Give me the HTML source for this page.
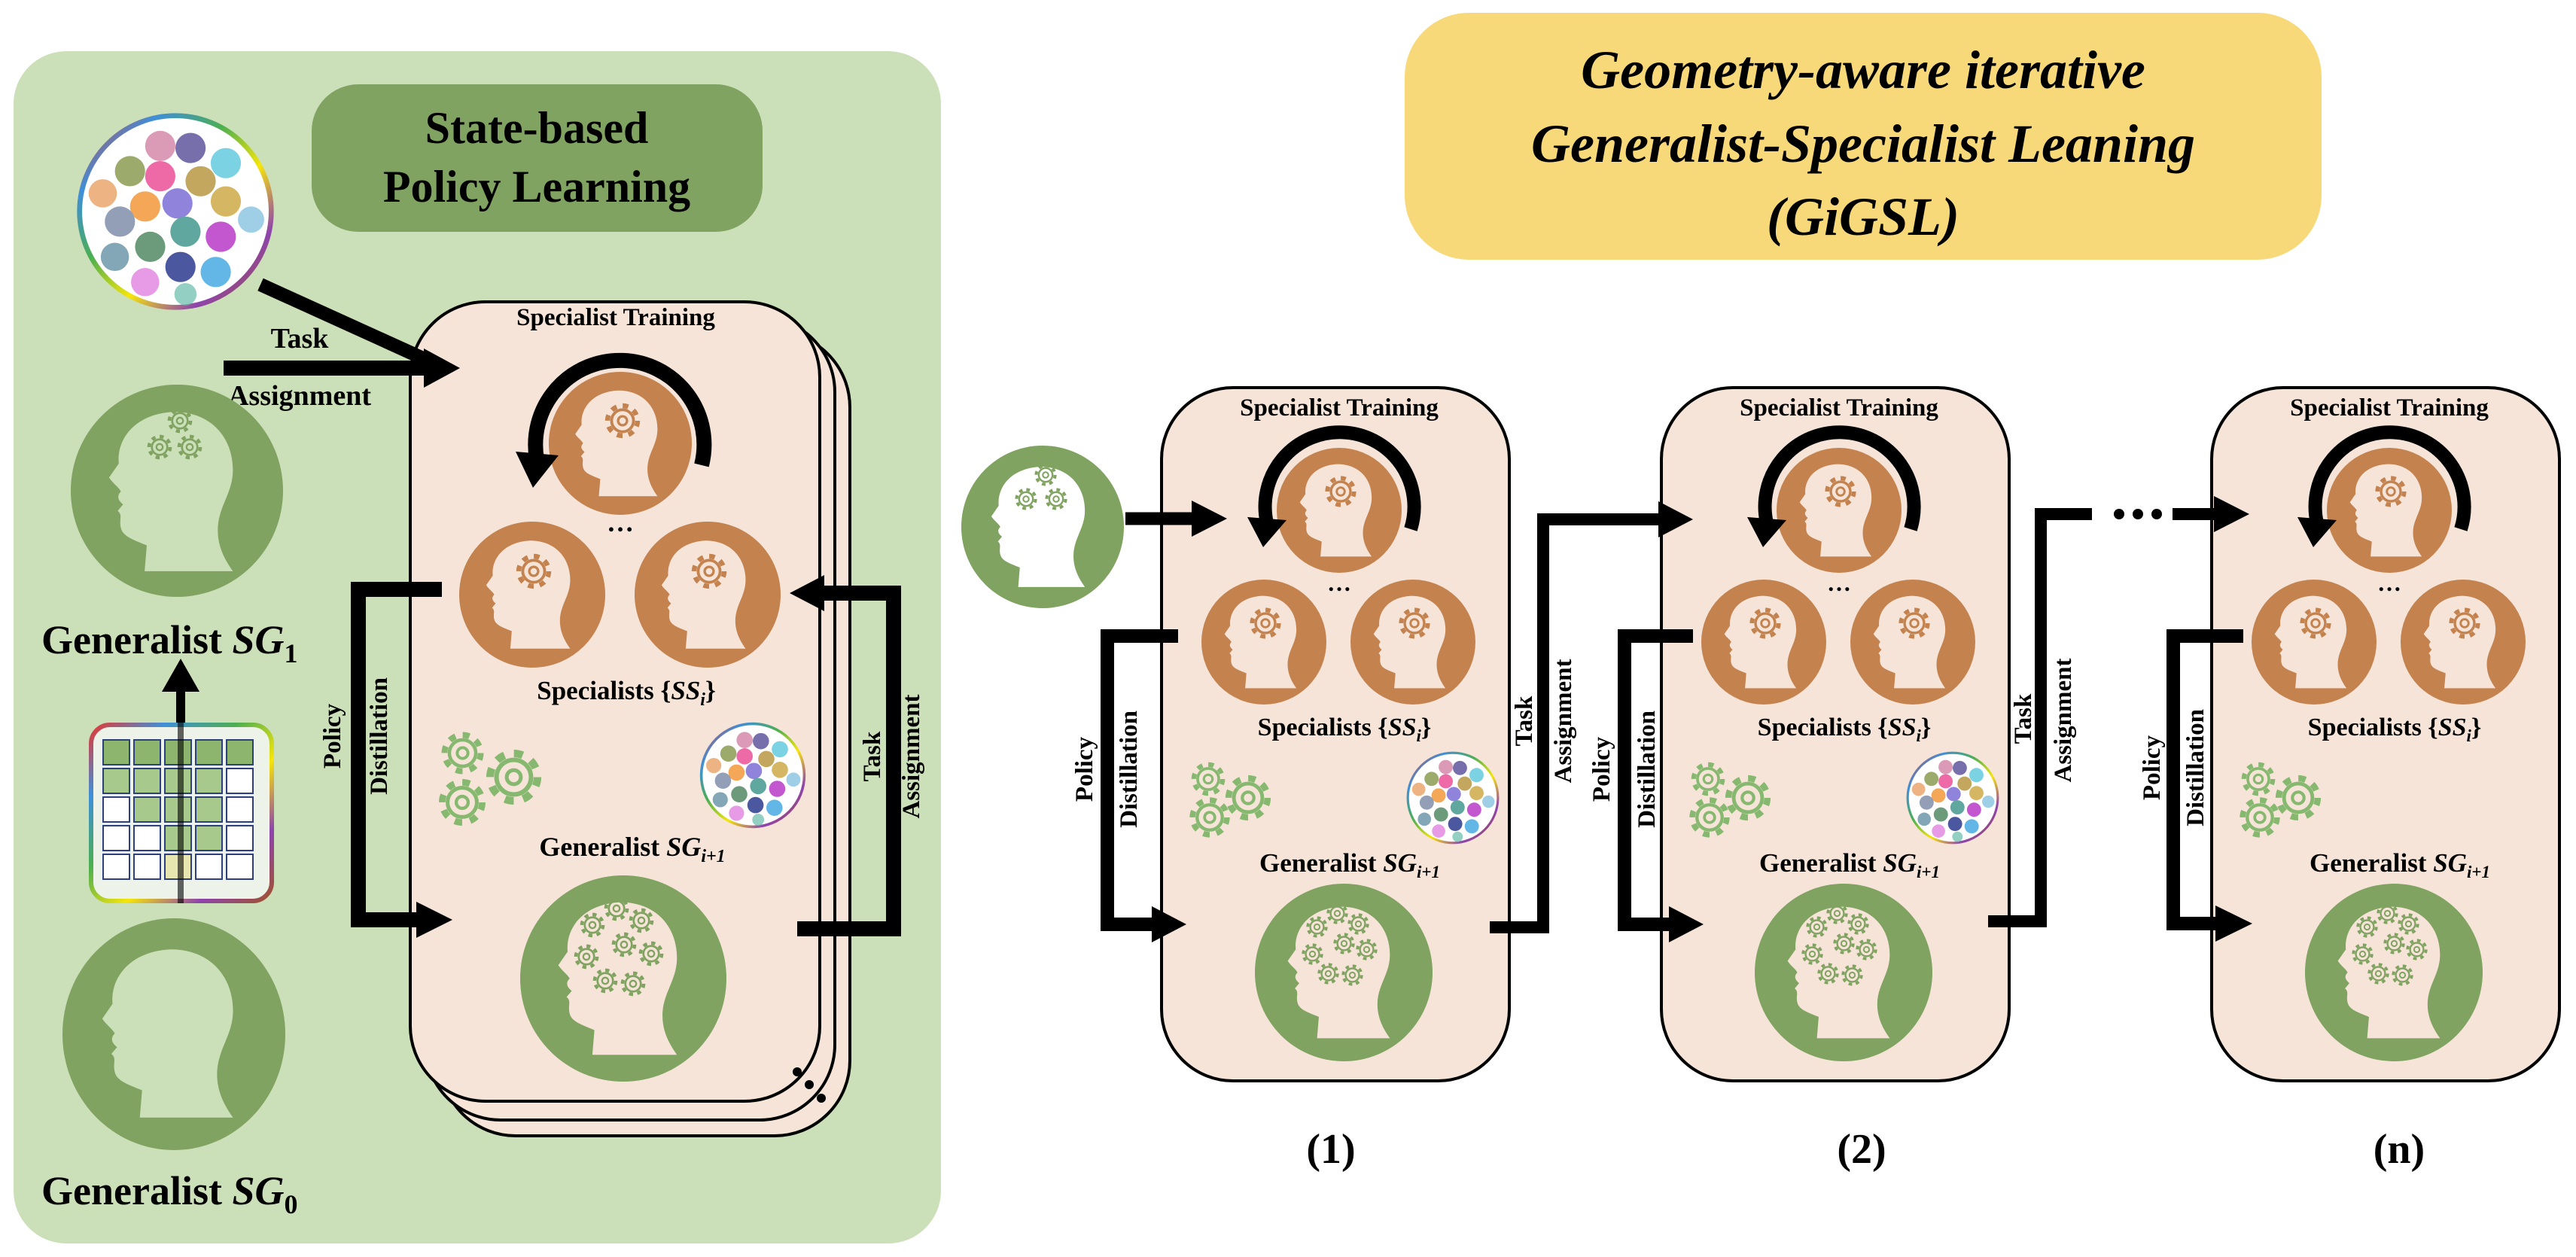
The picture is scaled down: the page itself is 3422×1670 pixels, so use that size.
<!DOCTYPE html>
<html><head><meta charset="utf-8"><style>
html,body{margin:0;padding:0;background:#fff;}
svg{display:block;}
text{font-family:"Liberation Serif",serif;font-weight:bold;fill:#000;}
</style></head><body>
<svg width="3422" height="1670" viewBox="0 0 3422 1670" xmlns="http://www.w3.org/2000/svg">
<defs>
<linearGradient id="rb" x1="0" y1="0" x2="1" y2="1">
<stop offset="0" stop-color="#e53935"/><stop offset="0.2" stop-color="#3f8fd8"/><stop offset="0.4" stop-color="#4caf50"/><stop offset="0.6" stop-color="#f5e50b"/><stop offset="0.8" stop-color="#8e44ad"/><stop offset="1" stop-color="#a0522d"/>
</linearGradient>
<symbol id="head" viewBox="-100 -100 200 200">
<path d="M -30,74 L -28,50 C -40,45 -50,42 -52,34 C -54,26 -50,22 -55,18 L -50,12 C -55,8 -56,4 -52,0 C -54,-4 -60,-8 -63,-13 L -54,-26 C -56,-48 -40,-72 -3,-74 C 32,-74 52,-50 52,-20 C 52,2 38,14 38,36 C 38,52 45,64 52,74 Z"/>
</symbol>
<symbol id="gear" viewBox="-50 -50 100 100">
<circle r="37" fill="none" stroke-width="12" stroke-dasharray="14 15.05"/>
<circle r="27" fill="none" stroke-width="7"/>
<circle r="11" fill="none" stroke-width="6"/>
</symbol>
<symbol id="scat" viewBox="-100 -100 200 200">
<circle r="95" fill="#fff" stroke="url(#rb)" stroke-width="5"/>
<g opacity="0.75">
<circle cx="-15" cy="-65" r="15" fill="#d07aa0"/><circle cx="15" cy="-63" r="15" fill="#4a3f8f"/><circle cx="50" cy="-48" r="15" fill="#4fc3d9"/>
<circle cx="-45" cy="-40" r="15" fill="#7c8f3a"/><circle cx="-15" cy="-35" r="15" fill="#e8398a"/><circle cx="25" cy="-30" r="15" fill="#b08a2a"/>
<circle cx="-72" cy="-18" r="14" fill="#e89a5a"/><circle cx="-30" cy="-5" r="15" fill="#f08a20"/><circle cx="2" cy="-8" r="15" fill="#6a5ad0"/><circle cx="50" cy="-10" r="15" fill="#c8a030"/>
<circle cx="-55" cy="10" r="15" fill="#6f7f9f"/><circle cx="10" cy="20" r="15" fill="#2a8a80"/><circle cx="45" cy="25" r="15" fill="#b020c0"/><circle cx="75" cy="8" r="13" fill="#7fbfe0"/>
<circle cx="-60" cy="45" r="14" fill="#5a8aa0"/><circle cx="-25" cy="35" r="15" fill="#3a7a50"/><circle cx="5" cy="55" r="15" fill="#102080"/>
<circle cx="-30" cy="70" r="14" fill="#e07ae0"/><circle cx="40" cy="60" r="15" fill="#30a0e0"/><circle cx="10" cy="82" r="11" fill="#70c0b0"/>
</g>
</symbol>
</defs>

<!-- LEFT PANEL -->
<rect x="18" y="68" width="1232" height="1584" rx="70" fill="#cbdfb8"/>
<rect x="414" y="112" width="599" height="196" rx="62" fill="#80a361"/>
<text x="713" y="190" font-size="60" text-anchor="middle">State-based</text>
<text x="713" y="268" font-size="60" text-anchor="middle">Policy Learning</text>

<use href="#scat" x="99" y="147" width="268" height="268"/>

<text x="398" y="462" font-size="38" text-anchor="middle">Task</text>
<text x="398" y="538" font-size="38" text-anchor="middle">Assignment</text>

<!-- SG1 head -->
<circle cx="235" cy="652" r="141" fill="#80a361"/>
<use href="#head" x="92" y="510" width="286" height="286" fill="#cbdfb8"/>
<g stroke="#80a361"><use href="#gear" x="220" y="540" width="38" height="38"/><use href="#gear" x="193" y="575" width="38" height="38"/><use href="#gear" x="233" y="575" width="38" height="38"/></g>
<text x="55" y="868" font-size="54">Generalist <tspan font-style="italic">SG</tspan><tspan font-size="36" dy="12">1</tspan></text>

<!-- grid -->
<line x1="240" y1="1200" x2="240" y2="912" stroke="#000" stroke-width="12"/>
<polygon points="215,919 240,875 265,919" fill="#000"/>
<rect x="121" y="963" width="240" height="234" rx="25" fill="#eef3ea" stroke="url(#rb)" stroke-width="6"/>
<g stroke="#2e3f80" stroke-width="2">
<rect x="137" y="983" width="35" height="33" fill="#8db56d"/><rect x="178" y="983" width="35" height="33" fill="#8db56d"/><rect x="219" y="983" width="35" height="33" fill="#8db56d"/><rect x="260" y="983" width="35" height="33" fill="#8db56d"/><rect x="301" y="983" width="35" height="33" fill="#8db56d"/>
<rect x="137" y="1021" width="35" height="33" fill="#a8c98c"/><rect x="178" y="1021" width="35" height="33" fill="#a8c98c"/><rect x="219" y="1021" width="35" height="33" fill="#a8c98c"/><rect x="260" y="1021" width="35" height="33" fill="#a8c98c"/><rect x="301" y="1021" width="35" height="33" fill="#fff"/>
<rect x="137" y="1059" width="35" height="33" fill="#fff"/><rect x="178" y="1059" width="35" height="33" fill="#a8c98c"/><rect x="219" y="1059" width="35" height="33" fill="#a8c98c"/><rect x="260" y="1059" width="35" height="33" fill="#a8c98c"/><rect x="301" y="1059" width="35" height="33" fill="#fff"/>
<rect x="137" y="1097" width="35" height="33" fill="#fff"/><rect x="178" y="1097" width="35" height="33" fill="#fff"/><rect x="219" y="1097" width="35" height="33" fill="#a8c98c"/><rect x="260" y="1097" width="35" height="33" fill="#a8c98c"/><rect x="301" y="1097" width="35" height="33" fill="#fff"/>
<rect x="137" y="1135" width="35" height="33" fill="#fff"/><rect x="178" y="1135" width="35" height="33" fill="#fff"/><rect x="219" y="1135" width="35" height="33" fill="#e8e6b0"/><rect x="260" y="1135" width="35" height="33" fill="#fff"/><rect x="301" y="1135" width="35" height="33" fill="#fff"/>
</g>
<line x1="240" y1="1200" x2="240" y2="960" stroke="#000" stroke-width="8" opacity="0.6"/>

<!-- SG0 head -->
<ellipse cx="231" cy="1374" rx="148" ry="154" fill="#80a361"/>
<use href="#head" x="80" y="1222" width="302" height="302" fill="#cbdfb8"/>
<text x="55" y="1600" font-size="54">Generalist <tspan font-style="italic">SG</tspan><tspan font-size="36" dy="12">0</tspan></text>

<!-- stacked cards -->
<rect x="585" y="441" width="544" height="1068" rx="100" fill="#f5e4d7" stroke="#000" stroke-width="4"/>
<rect x="565" y="421" width="544" height="1067" rx="100" fill="#f5e4d7" stroke="#000" stroke-width="4"/>
<rect x="545" y="401" width="544" height="1062" rx="100" fill="#f5e4d7" stroke="#000" stroke-width="4"/>
<circle cx="1059" cy="1424" r="6"/><circle cx="1075" cy="1441" r="6"/><circle cx="1091" cy="1459" r="6"/>

<!-- task assignment arrows (on top of cards) -->
<line x1="346" y1="378" x2="575" y2="482" stroke="#000" stroke-width="18"/>
<line x1="297" y1="489" x2="570" y2="489" stroke="#000" stroke-width="20"/>
<polygon points="563,463 611,489 563,515" fill="#000"/>

<text x="818" y="432" font-size="33" text-anchor="middle">Specialist Training</text>
<circle cx="824" cy="589" r="95" fill="#c4824f"/>
<use href="#head" x="729" y="494" width="190" height="190" fill="#f5e4d7"/>
<use href="#gear" x="800" y="532" width="54" height="54" stroke="#c4824f"/>
<path d="M 932,618 A 112 112 0 1 0 713,610" fill="none" stroke="#000" stroke-width="20"/>
<polygon points="685,600 742,605 708,648" fill="#000"/>
<text x="824" y="706" font-size="36" text-anchor="middle">…</text>
<circle cx="707" cy="790" r="97" fill="#c4824f"/>
<use href="#head" x="610" y="693" width="194" height="194" fill="#f5e4d7"/>
<use href="#gear" x="682" y="732" width="54" height="54" stroke="#c4824f"/>
<circle cx="940" cy="790" r="97" fill="#c4824f"/>
<use href="#head" x="843" y="693" width="194" height="194" fill="#f5e4d7"/>
<use href="#gear" x="915" y="732" width="54" height="54" stroke="#c4824f"/>
<text x="832" y="929" font-size="35" text-anchor="middle">Specialists {<tspan font-style="italic">SS</tspan><tspan font-style="italic" font-size="24" dy="8">i</tspan><tspan dy="-8">}</tspan></text>
<g stroke="#86b96f"><use href="#gear" x="582" y="968" width="65" height="65"/><use href="#gear" x="640" y="990" width="85" height="85"/><use href="#gear" x="578" y="1030" width="72" height="72"/></g>
<use href="#scat" x="928" y="958" width="144" height="144"/>
<text x="840" y="1137" font-size="36" text-anchor="middle">Generalist <tspan font-style="italic">SG</tspan><tspan font-style="italic" font-size="24" dy="8">i+1</tspan></text>
<circle cx="828" cy="1300" r="137" fill="#80a361"/>
<use href="#head" x="691" y="1163" width="274" height="274" fill="#f5e4d7"/>
<g stroke="#80a361"><use href="#gear" x="800" y="1188" width="38" height="38"/><use href="#gear" x="833" y="1204" width="38" height="38"/><use href="#gear" x="768" y="1210" width="38" height="38"/><use href="#gear" x="810" y="1236" width="38" height="38"/><use href="#gear" x="846" y="1248" width="38" height="38"/><use href="#gear" x="760" y="1252" width="38" height="38"/><use href="#gear" x="785" y="1284" width="38" height="38"/><use href="#gear" x="822" y="1288" width="38" height="38"/></g>

<!-- left panel brackets -->
<path d="M 587,783 H 476 V 1222 H 560" fill="none" stroke="#000" stroke-width="20"/>
<polygon points="553,1198 601,1222 553,1246" fill="#000"/>
<path d="M 1059,1234 H 1187 V 788 H 1092" fill="none" stroke="#000" stroke-width="20"/>
<polygon points="1095,764 1049,788 1095,812" fill="#000"/>
<text transform="translate(452,978) rotate(-90)" font-size="33" text-anchor="middle">Policy</text>
<text transform="translate(514,978) rotate(-90)" font-size="33" text-anchor="middle">Distillation</text>
<text transform="translate(1169,1005) rotate(-90)" font-size="33" text-anchor="middle">Task</text>
<text transform="translate(1221,1005) rotate(-90)" font-size="33" text-anchor="middle">Assignment</text>

<!-- TITLE -->
<rect x="1866" y="17" width="1218" height="328" rx="85" fill="#f8d97a"/>
<text x="2475" y="117" font-size="72" font-style="italic" text-anchor="middle">Geometry-aware iterative</text>
<text x="2475" y="215" font-size="72" font-style="italic" text-anchor="middle">Generalist-Specialist Leaning</text>
<text x="2475" y="312" font-size="72" font-style="italic" text-anchor="middle">(GiGSL)</text>

<!-- start head -->
<circle cx="1385" cy="700" r="108" fill="#80a361"/>
<use href="#head" x="1277" y="592" width="216" height="216" fill="#fff"/>
<g stroke="#80a361"><use href="#gear" x="1372" y="614" width="34" height="34"/><use href="#gear" x="1346" y="646" width="34" height="34"/><use href="#gear" x="1386" y="646" width="34" height="34"/></g>

<!-- CARDS -->
<g transform="translate(1543,515)">
<rect x="0" y="0" width="462" height="921" rx="95" fill="#f5e4d7" stroke="#000" stroke-width="4"/>
<text x="236" y="37" font-size="33" text-anchor="middle">Specialist Training</text>
<circle cx="236" cy="163" r="83" fill="#c4824f"/>
<use href="#head" x="153" y="80" width="166" height="166" fill="#f5e4d7"/>
<use href="#gear" x="214" y="114" width="48" height="48" stroke="#c4824f"/>
<path d="M 331,188 A 99 99 0 1 0 140,180" fill="none" stroke="#000" stroke-width="18"/>
<polygon points="114,172 166,176 135,212" fill="#000"/>
<text x="236" y="270" font-size="32" text-anchor="middle">…</text>
<circle cx="136" cy="338" r="83" fill="#c4824f"/>
<use href="#head" x="53" y="255" width="166" height="166" fill="#f5e4d7"/>
<use href="#gear" x="114" y="289" width="48" height="48" stroke="#c4824f"/>
<circle cx="334" cy="338" r="83" fill="#c4824f"/>
<use href="#head" x="251" y="255" width="166" height="166" fill="#f5e4d7"/>
<use href="#gear" x="312" y="289" width="48" height="48" stroke="#c4824f"/>
<text x="243" y="462" font-size="34" text-anchor="middle">Specialists {<tspan font-style="italic">SS</tspan><tspan font-style="italic" font-size="23" dy="8">i</tspan><tspan dy="-8">}</tspan></text>
<g stroke="#86b96f"><use href="#gear" x="36" y="494" width="52" height="52"/><use href="#gear" x="80" y="510" width="70" height="70"/><use href="#gear" x="33" y="540" width="62" height="62"/></g>
<use href="#scat" x="324" y="482" width="126" height="126"/>
<text x="250" y="643" font-size="35" text-anchor="middle">Generalist <tspan font-style="italic">SG</tspan><tspan font-style="italic" font-size="23" dy="8">i+1</tspan></text>
<circle cx="242" cy="777" r="118" fill="#80a361"/>
<use href="#head" x="124" y="659" width="236" height="236" fill="#f5e4d7"/>
<g stroke="#80a361"><use href="#gear" x="217" y="682" width="33" height="33"/><use href="#gear" x="245" y="696" width="33" height="33"/><use href="#gear" x="190" y="700" width="33" height="33"/><use href="#gear" x="226" y="722" width="33" height="33"/><use href="#gear" x="256" y="730" width="33" height="33"/><use href="#gear" x="184" y="736" width="33" height="33"/><use href="#gear" x="205" y="762" width="33" height="33"/><use href="#gear" x="237" y="764" width="33" height="33"/></g>
</g>

<g transform="translate(2207,515)">
<rect x="0" y="0" width="462" height="921" rx="95" fill="#f5e4d7" stroke="#000" stroke-width="4"/>
<text x="236" y="37" font-size="33" text-anchor="middle">Specialist Training</text>
<circle cx="236" cy="163" r="83" fill="#c4824f"/>
<use href="#head" x="153" y="80" width="166" height="166" fill="#f5e4d7"/>
<use href="#gear" x="214" y="114" width="48" height="48" stroke="#c4824f"/>
<path d="M 331,188 A 99 99 0 1 0 140,180" fill="none" stroke="#000" stroke-width="18"/>
<polygon points="114,172 166,176 135,212" fill="#000"/>
<text x="236" y="270" font-size="32" text-anchor="middle">…</text>
<circle cx="136" cy="338" r="83" fill="#c4824f"/>
<use href="#head" x="53" y="255" width="166" height="166" fill="#f5e4d7"/>
<use href="#gear" x="114" y="289" width="48" height="48" stroke="#c4824f"/>
<circle cx="334" cy="338" r="83" fill="#c4824f"/>
<use href="#head" x="251" y="255" width="166" height="166" fill="#f5e4d7"/>
<use href="#gear" x="312" y="289" width="48" height="48" stroke="#c4824f"/>
<text x="243" y="462" font-size="34" text-anchor="middle">Specialists {<tspan font-style="italic">SS</tspan><tspan font-style="italic" font-size="23" dy="8">i</tspan><tspan dy="-8">}</tspan></text>
<g stroke="#86b96f"><use href="#gear" x="36" y="494" width="52" height="52"/><use href="#gear" x="80" y="510" width="70" height="70"/><use href="#gear" x="33" y="540" width="62" height="62"/></g>
<use href="#scat" x="324" y="482" width="126" height="126"/>
<text x="250" y="643" font-size="35" text-anchor="middle">Generalist <tspan font-style="italic">SG</tspan><tspan font-style="italic" font-size="23" dy="8">i+1</tspan></text>
<circle cx="242" cy="777" r="118" fill="#80a361"/>
<use href="#head" x="124" y="659" width="236" height="236" fill="#f5e4d7"/>
<g stroke="#80a361"><use href="#gear" x="217" y="682" width="33" height="33"/><use href="#gear" x="245" y="696" width="33" height="33"/><use href="#gear" x="190" y="700" width="33" height="33"/><use href="#gear" x="226" y="722" width="33" height="33"/><use href="#gear" x="256" y="730" width="33" height="33"/><use href="#gear" x="184" y="736" width="33" height="33"/><use href="#gear" x="205" y="762" width="33" height="33"/><use href="#gear" x="237" y="764" width="33" height="33"/></g>
</g>

<g transform="translate(2938,515)">
<rect x="0" y="0" width="462" height="921" rx="95" fill="#f5e4d7" stroke="#000" stroke-width="4"/>
<text x="236" y="37" font-size="33" text-anchor="middle">Specialist Training</text>
<circle cx="236" cy="163" r="83" fill="#c4824f"/>
<use href="#head" x="153" y="80" width="166" height="166" fill="#f5e4d7"/>
<use href="#gear" x="214" y="114" width="48" height="48" stroke="#c4824f"/>
<path d="M 331,188 A 99 99 0 1 0 140,180" fill="none" stroke="#000" stroke-width="18"/>
<polygon points="114,172 166,176 135,212" fill="#000"/>
<text x="236" y="270" font-size="32" text-anchor="middle">…</text>
<circle cx="136" cy="338" r="83" fill="#c4824f"/>
<use href="#head" x="53" y="255" width="166" height="166" fill="#f5e4d7"/>
<use href="#gear" x="114" y="289" width="48" height="48" stroke="#c4824f"/>
<circle cx="334" cy="338" r="83" fill="#c4824f"/>
<use href="#head" x="251" y="255" width="166" height="166" fill="#f5e4d7"/>
<use href="#gear" x="312" y="289" width="48" height="48" stroke="#c4824f"/>
<text x="243" y="462" font-size="34" text-anchor="middle">Specialists {<tspan font-style="italic">SS</tspan><tspan font-style="italic" font-size="23" dy="8">i</tspan><tspan dy="-8">}</tspan></text>
<g stroke="#86b96f"><use href="#gear" x="36" y="494" width="52" height="52"/><use href="#gear" x="80" y="510" width="70" height="70"/><use href="#gear" x="33" y="540" width="62" height="62"/></g>
<text x="250" y="643" font-size="35" text-anchor="middle">Generalist <tspan font-style="italic">SG</tspan><tspan font-style="italic" font-size="23" dy="8">i+1</tspan></text>
<circle cx="242" cy="777" r="118" fill="#80a361"/>
<use href="#head" x="124" y="659" width="236" height="236" fill="#f5e4d7"/>
<g stroke="#80a361"><use href="#gear" x="217" y="682" width="33" height="33"/><use href="#gear" x="245" y="696" width="33" height="33"/><use href="#gear" x="190" y="700" width="33" height="33"/><use href="#gear" x="226" y="722" width="33" height="33"/><use href="#gear" x="256" y="730" width="33" height="33"/><use href="#gear" x="184" y="736" width="33" height="33"/><use href="#gear" x="205" y="762" width="33" height="33"/><use href="#gear" x="237" y="764" width="33" height="33"/></g>
</g>

<!-- right connectors -->
<line x1="1495" y1="689" x2="1590" y2="689" stroke="#000" stroke-width="17"/>
<polygon points="1583,665 1630,689 1583,713" fill="#000"/>
<path d="M 1565,845 H 1471 V 1228 H 1540" fill="none" stroke="#000" stroke-width="18"/>
<polygon points="1530,1204 1576,1228 1530,1252" fill="#000"/>
<path d="M 1979,1232 H 2050 V 690 H 2210" fill="none" stroke="#000" stroke-width="16"/>
<polygon points="2203,666 2249,690 2203,714" fill="#000"/>
<path d="M 2249,845 H 2158 V 1228 H 2225" fill="none" stroke="#000" stroke-width="18"/>
<polygon points="2217,1204 2263,1228 2217,1252" fill="#000"/>
<path d="M 2641,1224 H 2711 V 683 H 2779" fill="none" stroke="#000" stroke-width="16"/>
<circle cx="2815" cy="683" r="7"/><circle cx="2840" cy="683" r="7"/><circle cx="2865" cy="683" r="7"/>
<line x1="2886" y1="683" x2="2948" y2="683" stroke="#000" stroke-width="16"/>
<polygon points="2941,659 2988,683 2941,707" fill="#000"/>
<path d="M 2980,845 H 2887 V 1227 H 2950" fill="none" stroke="#000" stroke-width="18"/>
<polygon points="2943,1203 2992,1227 2943,1251" fill="#000"/>

<text transform="translate(1451,1022) rotate(-90)" font-size="33" text-anchor="middle">Policy</text>
<text transform="translate(1510,1022) rotate(-90)" font-size="33" text-anchor="middle">Distillation</text>
<text transform="translate(2035,958) rotate(-90)" font-size="33" text-anchor="middle">Task</text>
<text transform="translate(2087,958) rotate(-90)" font-size="33" text-anchor="middle">Assignment</text>
<text transform="translate(2138,1022) rotate(-90)" font-size="33" text-anchor="middle">Policy</text>
<text transform="translate(2198,1022) rotate(-90)" font-size="33" text-anchor="middle">Distillation</text>
<text transform="translate(2698,955) rotate(-90)" font-size="33" text-anchor="middle">Task</text>
<text transform="translate(2751,957) rotate(-90)" font-size="33" text-anchor="middle">Assignment</text>
<text transform="translate(2869,1020) rotate(-90)" font-size="33" text-anchor="middle">Policy</text>
<text transform="translate(2927,1020) rotate(-90)" font-size="33" text-anchor="middle">Distillation</text>

<text x="1768" y="1545" font-size="56" text-anchor="middle">(1)</text>
<text x="2473" y="1545" font-size="56" text-anchor="middle">(2)</text>
<text x="3187" y="1545" font-size="56" text-anchor="middle">(n)</text>
</svg>
</body></html>
